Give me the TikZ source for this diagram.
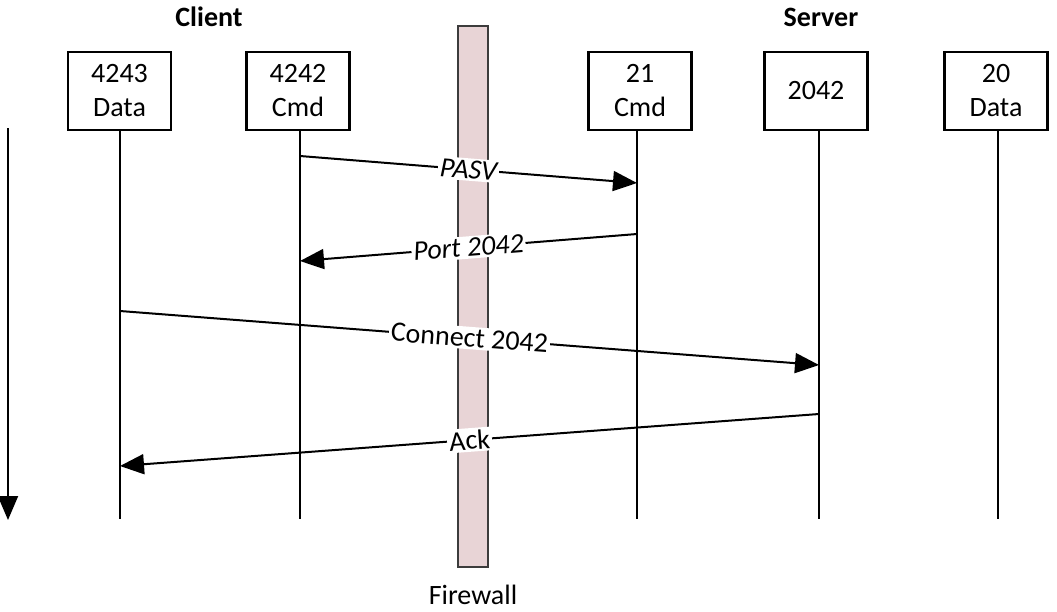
\documentclass[tikz,border=0pt]{standalone}
\usepackage{fontspec}
\setmainfont{Carlito}
\usetikzlibrary{arrows.meta}
\definecolor{fwfill}{RGB}{232,212,214}
\definecolor{fwdraw}{RGB}{60,60,60}
\tikzset{
  portbox/.style={draw=black, line width=2.2pt, fill=white, minimum width=103pt, minimum height=78pt, inner sep=0pt, align=center, font=\fontsize{28}{34}\selectfont},
  lifeline/.style={line width=2pt},
  msg/.style={line width=2pt, -{Triangle[length=24pt,width=20pt]}},
  msglabel/.style={midway, sloped, fill=white, inner sep=2pt, font=\fontsize{28}{32}\selectfont},
  sidelabel/.style={font=\fontsize{28}{32}\selectfont\bfseries},
}
\begin{document}
\begin{tikzpicture}[x=1pt,y=-1pt]
\useasboundingbox (0,0) rectangle (1057,611);
% firewall
\node[draw=fwdraw, fill=fwfill, line width=2pt, minimum width=30pt, minimum height=541pt, inner sep=0pt] (fw) at (473,296.5) {};
\node[font=\fontsize{28}{32}\selectfont] (fwl) at (473,595) {Firewall};
% headers
\node[sidelabel] (client) at (209,17) {Client};
\node[sidelabel] (server) at (821,17) {Server};
% boxes
\node[portbox] (b1) at (119.5,91) {4243\\Data};
\node[portbox] (b2) at (298,91) {4242\\Cmd};
\node[portbox] (b3) at (640,91) {21\\Cmd};
\node[portbox] (b4) at (816,91) {2042};
\node[portbox] (b5) at (996,91) {20\\Data};
% lifeline ends
\coordinate (e1) at (120,519);
\coordinate (e2) at (300,519);
\coordinate (e3) at (637,519);
\coordinate (e4) at (819,519);
\coordinate (e5) at (998,519);
\draw[lifeline] (b1.south -| e1) -- (e1);
\draw[lifeline] (b2.south -| e2) -- (e2);
\draw[lifeline] (b3.south -| e3) -- (e3);
\draw[lifeline] (b4.south -| e4) -- (e4);
\draw[lifeline] (b5.south -| e5) -- (e5);
% time arrow
\coordinate (t0) at (8,128);
\coordinate (t1) at (8,520);
\draw[msg] (t0) -- (t1);
% messages
\coordinate (m1a) at (300,156);
\coordinate (m1b) at (637,183);
\coordinate (m2a) at (637,234);
\coordinate (m2b) at (300,261);
\coordinate (m3a) at (120,311);
\coordinate (m3b) at (819,365);
\coordinate (m4a) at (819,414);
\coordinate (m4b) at (120,466);
\draw[msg] (m1a) -- node[msglabel] {\itshape PASV} (m1b);
\draw[msg] (m2a) -- node[msglabel] {\itshape Port 2042} (m2b);
\draw[msg] (m3a) -- node[msglabel] {Connect 2042} (m3b);
\draw[msg] (m4a) -- node[msglabel] {Ack} (m4b);
\end{tikzpicture}
\end{document}
